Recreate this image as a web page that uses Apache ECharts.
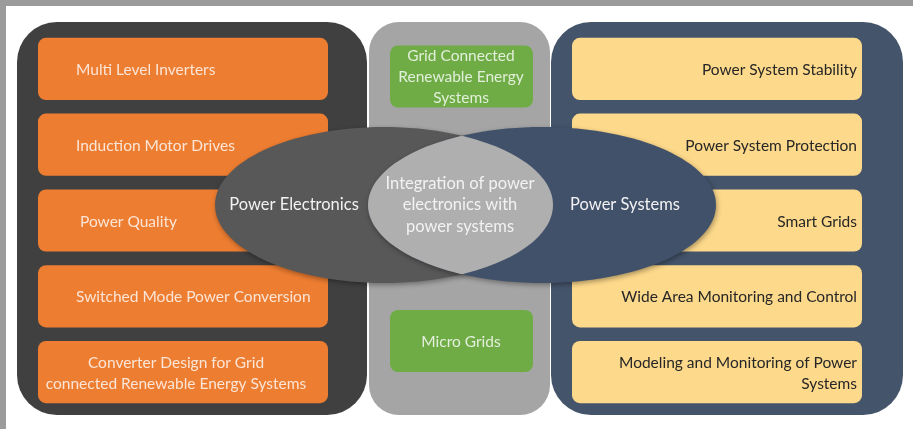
<!DOCTYPE html>
<html>
<head>
    <meta charset="utf-8">
</head>
<body style="margin: 0; background: #ffffff">
    <div id="container" style="width: 913px; height: 429px"></div>
    <script src="https://cdn.jsdelivr.net/npm/echarts@6/dist/echarts.min.js"></script>
    <script type="text/javascript">
        // topics per area (rows top to bottom)
        var leftTopics = ['Multi Level Inverters', 'Induction Motor Drives', 'Power Quality',
            'Switched Mode Power Conversion', 'Converter Design for Grid\nconnected Renewable Energy Systems'];
        var rightTopics = ['Power System Stability', 'Power System Protection', 'Smart Grids',
            'Wide Area Monitoring and Control', 'Modeling and Monitoring of Power\nSystems'];
        var sharedTopics = ['Grid Connected\nRenewable Energy\nSystems', 'Micro Grids'];
        var sharedRows = [0.1, 3.59];
        var areaNames = ['Power Electronics', 'Power Systems'];
        var overlapName = 'Integration of power\nelectronics with\npower systems';
        var areaRow = 1.795;

        var dom = document.getElementById("container");
        var myChart = echarts.init(dom);
        var FONT = '15.5px Lato';
        var BIG = '16.5px Lato';

        function rowH(api) {
            return api.size([0, 1])[1];
        }

        function panelItem(params, api) {
            var cols = [[17, 367, 40, '#404040'], [369, 550, 30, '#a5a5a5'], [551, 903, 40, '#44546a']];
            var c = cols[params.dataIndex];
            var top = api.coord([0, -0.5])[1] - 9;
            var bot = api.coord([0, 4.5])[1] + 5;
            return {
                type: 'rect',
                shape: { x: c[0], y: top, width: c[1] - c[0], height: bot - top, r: c[2] },
                style: { fill: c[3] }
            };
        }

        function boxRenderer(x0, x1, fill, txtColor, labels, aligns, textXs) {
            return function (params, api) {
                var p = api.coord([x0, api.value(0)]);
                var p1 = api.coord([x1, api.value(0)]);
                var h = rowH(api) * 0.82;
                var k = params.dataIndex;
                return {
                    type: 'group',
                    children: [{
                        type: 'rect',
                        shape: { x: p[0], y: p[1] - h / 2, width: p1[0] - p[0], height: h, r: 8 },
                        style: { fill: fill }
                    }, {
                        type: 'text',
                        x: textXs[k],
                        y: p[1] + 1,
                        style: {
                            text: labels[k], fill: txtColor, font: FONT,
                            align: aligns[k], verticalAlign: 'middle', lineHeight: 21
                        }
                    }]
                };
            };
        }

        function vennItem(params, api) {
            var c = api.coord([0, api.value(0)]);
            var cy = c[1], ry = 78;
            var lx = 384, lrx = 169, rx = 542, rrx = 174;
            // lens = part of both ellipses
            var dyMax = ry * Math.sqrt(1 - Math.pow((rx - lx) / 2 / lrx, 2));
            var pts = [], n = 40, i, dy;
            for (i = 0; i <= n; i++) {
                dy = -dyMax + 2 * dyMax * i / n;
                pts.push([lx + lrx * Math.sqrt(Math.max(0, 1 - dy * dy / (ry * ry))), cy + dy]);
            }
            for (i = n; i >= 0; i--) {
                dy = -dyMax + 2 * dyMax * i / n;
                pts.push([rx - rrx * Math.sqrt(Math.max(0, 1 - dy * dy / (ry * ry))), cy + dy]);
            }
            var shadow = { shadowBlur: 5, shadowOffsetX: 1, shadowOffsetY: 2, shadowColor: 'rgba(0,0,0,0.35)' };
            return {
                type: 'group',
                children: [
                    { type: 'ellipse', shape: { cx: lx, cy: cy, rx: lrx, ry: ry }, style: Object.assign({ fill: '#585858' }, shadow) },
                    { type: 'ellipse', shape: { cx: rx, cy: cy, rx: rrx, ry: ry }, style: Object.assign({ fill: '#41516a' }, shadow) },
                    { type: 'polygon', shape: { points: pts }, style: { fill: '#afafaf' } },
                    { type: 'text', x: 294, y: cy, style: { text: areaNames[0], fill: '#f2f2f2', font: BIG, align: 'center', verticalAlign: 'middle' } },
                    { type: 'text', x: 625, y: cy, style: { text: areaNames[1], fill: '#f2f2f2', font: BIG, align: 'center', verticalAlign: 'middle' } },
                    { type: 'text', x: 460, y: cy, style: { text: overlapName, fill: '#f2f2f2', font: '16.5px Lato', align: 'center', verticalAlign: 'middle', lineHeight: 21.5 } }
                ]
            };
        }

        option = {
            animation: false,
            graphic: [
                { type: 'rect', shape: { x: 0, y: 0, width: 913, height: 6 }, style: { fill: '#9b9b9b' } },
                { type: 'rect', shape: { x: 0, y: 0, width: 6, height: 429 }, style: { fill: '#9b9b9b' } }
            ],
            grid: { left: 0, right: 0, top: 31, bottom: 19 },
            xAxis: { type: 'value', min: 0, max: 913, show: false },
            yAxis: { type: 'value', min: -0.5, max: 4.5, inverse: true, show: false },
            series: [
                {
                    type: 'custom', renderItem: panelItem, silent: true,
                    data: [[2], [2], [2]], encode: { y: 0 }
                },
                {
                    type: 'custom', silent: true, encode: { y: 0 },
                    renderItem: boxRenderer(38, 328, '#ed7d31', '#fbe5d6', leftTopics,
                        ['left', 'left', 'left', 'left', 'center'], [76, 76, 80, 76, 176]),
                    data: leftTopics.map(function (t, i) { return [i]; })
                },
                {
                    type: 'custom', silent: true, encode: { y: 0 },
                    renderItem: boxRenderer(572, 862, '#fdd98b', '#262626', rightTopics,
                        ['right', 'right', 'right', 'right', 'right'], [857, 857, 857, 857, 857]),
                    data: rightTopics.map(function (t, i) { return [i]; })
                },
                {
                    type: 'custom', silent: true, encode: { y: 0 },
                    renderItem: boxRenderer(390, 533, '#6fac46', '#e2efda', sharedTopics,
                        ['center', 'center'], [461, 461]),
                    data: sharedRows.map(function (r) { return [r]; })
                },
                {
                    type: 'custom', silent: true, encode: { y: 0 },
                    renderItem: vennItem,
                    data: [[areaRow]]
                }
            ]
        };
        if (option && typeof option === "object") {
            myChart.setOption(option, true);
        }
    </script>
</body>
</html>
